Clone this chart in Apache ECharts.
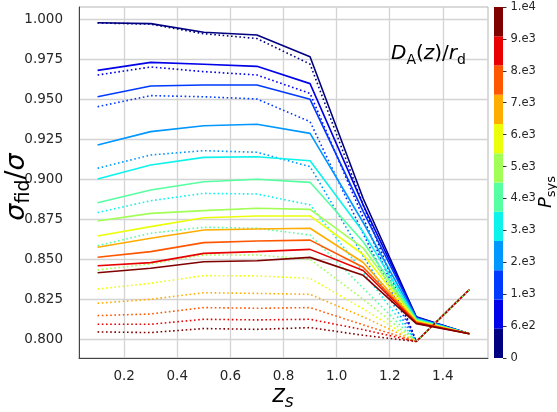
<!DOCTYPE html>
<html><head><meta charset="utf-8">
<script src="https://cdn.jsdelivr.net/npm/echarts@6/dist/echarts.min.js"></script>
<style>html,body{margin:0;padding:0;background:#fff}#c{width:557px;height:412px}</style>
</head><body><div id="c"></div>
<script>
// redshift bins
const zs = [0.1, 0.3, 0.5, 0.7, 0.9, 1.1, 1.3, 1.5];
// solid lines, P_sys level 0 (lowest) ... 11 (highest)
const solid_0  = [0.9979, 0.9973, 0.9919, 0.9902, 0.9766, 0.888, 0.8141, 0.8035];
const solid_1  = [0.9681, 0.9731, 0.9719, 0.9706, 0.9598, 0.884, 0.8138, 0.8035];
const solid_2  = [0.9516, 0.9583, 0.9589, 0.9589, 0.9500, 0.880, 0.8135, 0.8035];
const solid_3  = [0.9214, 0.9298, 0.9335, 0.9344, 0.9287, 0.873, 0.8131, 0.8035];
const solid_4  = [0.9002, 0.9089, 0.9137, 0.9141, 0.9116, 0.867, 0.8127, 0.8035];
const solid_5  = [0.8854, 0.8933, 0.8985, 0.9000, 0.8981, 0.861, 0.8122, 0.8035];
const solid_6  = [0.8739, 0.8787, 0.8804, 0.8819, 0.8812, 0.857, 0.8118, 0.8035];
const solid_7  = [0.8646, 0.8704, 0.8760, 0.8771, 0.8771, 0.853, 0.8114, 0.8035];
const solid_8  = [0.8575, 0.8631, 0.8683, 0.8689, 0.8694, 0.8480, 0.8110, 0.8035];
const solid_9  = [0.8513, 0.8548, 0.8604, 0.8614, 0.8620, 0.8450, 0.8106, 0.8035];
const solid_10 = [0.8460, 0.8479, 0.8537, 0.8548, 0.8562, 0.8430, 0.8102, 0.8035];
const solid_11 = [0.8416, 0.8444, 0.8485, 0.8491, 0.8512, 0.8400, 0.8098, 0.8035];
// dotted lines
const dotted_0  = [0.9977, 0.9970, 0.9910, 0.9880, 0.9720, 0.884, 0.7986, 0.8311];
const dotted_1  = [0.9652, 0.9702, 0.9673, 0.9652, 0.9537, 0.876, 0.7986, 0.8311];
const dotted_2  = [0.9454, 0.9523, 0.9516, 0.9502, 0.9360, 0.866, 0.7986, 0.8311];
const dotted_3  = [0.9069, 0.9152, 0.9179, 0.9169, 0.9079, 0.852, 0.7986, 0.8311];
const dotted_4  = [0.8792, 0.8866, 0.8912, 0.8908, 0.8840, 0.842, 0.7986, 0.8311];
const dotted_5  = [0.8585, 0.8663, 0.8700, 0.8694, 0.8652, 0.832, 0.7986, 0.8311];
const dotted_6  = [0.8433, 0.8471, 0.8527, 0.8527, 0.8500, 0.825, 0.7986, 0.8311];
const dotted_7  = [0.8314, 0.8350, 0.8398, 0.8396, 0.8381, 0.819, 0.7986, 0.8311];
const dotted_8  = [0.8225, 0.8250, 0.8291, 0.8287, 0.8281, 0.814, 0.7986, 0.8311];
const dotted_9  = [0.8148, 0.8158, 0.8198, 0.8194, 0.8198, 0.809, 0.7986, 0.8311];
const dotted_10 = [0.8094, 0.8094, 0.8125, 0.8121, 0.8125, 0.806, 0.7986, 0.8311];
const dotted_11 = [0.8046, 0.8042, 0.8067, 0.8062, 0.8073, 0.8025, 0.7986, 0.8311];
// tick labels
const xTicks = [0.2, 0.4, 0.6, 0.8, 1.0, 1.2, 1.4];
const yTicks = [0.800, 0.825, 0.850, 0.875, 0.900, 0.925, 0.950, 0.975, 1.000];
const cbTickLabels = ['0', '6.e2', '1.e3', '2.e3', '3.e3', '4.e3', '5.e3', '6.e3', '7.e3', '8.e3', '9.e3', '1.e4'];
const cbLevels = [1, 1, 1, 1, 1, 1, 1, 1, 1, 1, 1, 1];

const solids = [solid_0, solid_1, solid_2, solid_3, solid_4, solid_5, solid_6, solid_7, solid_8, solid_9, solid_10, solid_11];
const dotteds = [dotted_0, dotted_1, dotted_2, dotted_3, dotted_4, dotted_5, dotted_6, dotted_7, dotted_8, dotted_9, dotted_10, dotted_11];
const colors = ['#000080', '#0000e9', '#003aff', '#0097ff', '#0bf3eb', '#56ffa1', '#a1ff56', '#ebff0b', '#ffad00', '#ff5700', '#e90000', '#800000'];
const FONT = 'DejaVu Sans';
const TXT = '#262626';

const series = [];
for (let i = 0; i < solids.length; i++) {
  series.push({type: 'line', xAxisIndex: 0, yAxisIndex: 0, symbol: 'none', silent: true,
    data: zs.map((z, j) => [z, solids[i][j]]), z: 2,
    lineStyle: {color: colors[i], width: 1.6}});
  series.push({type: 'line', xAxisIndex: 0, yAxisIndex: 0, symbol: 'none', silent: true,
    data: zs.map((z, j) => [z, dotteds[i][j]]), z: 2,
    lineStyle: {color: colors[i], width: 1.6, type: [1.6, 2.6], cap: 'butt'}});
}
for (let i = 0; i < cbLevels.length; i++) {
  series.push({type: 'bar', xAxisIndex: 1, yAxisIndex: 1, stack: 'cb', data: [cbLevels[i]],
    barWidth: '100%', barCategoryGap: 0, silent: true, itemStyle: {color: colors[i]}});
}

const richBase = (size) => ({
  i: {fontFamily: FONT, fontSize: size, fontStyle: 'italic', fill: '#000', color: '#000', lineHeight: size + 6, verticalAlign: 'middle'},
  n: {fontFamily: FONT, fontSize: size, fill: '#000', color: '#000', lineHeight: size + 6, verticalAlign: 'middle'},
  s: {fontFamily: FONT, fontSize: Math.round(size * 0.7), fill: '#000', color: '#000', lineHeight: Math.round(size * 0.7), verticalAlign: 'bottom'},
  si: {fontFamily: FONT, fontSize: Math.round(size * 0.7), fontStyle: 'italic', fill: '#000', color: '#000', lineHeight: Math.round(size * 0.7), verticalAlign: 'bottom'}
});

const option = {
  animation: false,
  backgroundColor: '#ffffff',
  grid: [
    {left: 79, top: 7, width: 409, height: 351, show: true, borderColor: '#b5b5b5', borderWidth: 1, backgroundColor: 'transparent'},
    {left: 494, top: 7, width: 9, height: 351}
  ],
  xAxis: [
    {gridIndex: 0, type: 'value', min: 0.03, max: 1.57,
      axisLine: {show: true, onZero: false, lineStyle: {color: '#444', width: 1}},
      axisTick: {show: false, customValues: xTicks},
      axisLabel: {customValues: xTicks, formatter: v => v.toFixed(1), margin: 11, fontSize: 13.5, color: TXT, fontFamily: FONT},
      splitLine: {show: true, lineStyle: {color: '#d3d3d3', width: 1.3}}},
    {gridIndex: 1, type: 'category', data: ['cb'], show: false}
  ],
  yAxis: [
    {gridIndex: 0, type: 'value', min: 0.7883, max: 1.0077,
      axisLine: {show: true, onZero: false, lineStyle: {color: '#444', width: 1}},
      axisTick: {show: false, customValues: yTicks},
      axisLabel: {customValues: yTicks, formatter: v => v.toFixed(3), margin: 16, fontSize: 13.5, color: TXT, fontFamily: FONT},
      splitLine: {show: true, lineStyle: {color: '#d3d3d3', width: 1.3}}},
    {gridIndex: 1, type: 'value', min: 0, max: 12, show: false},
    {gridIndex: 1, type: 'value', min: 0, max: 11, interval: 1, position: 'right',
      axisLine: {show: false},
      axisTick: {show: true, length: 3.5, lineStyle: {color: '#333', width: 1}},
      axisLabel: {formatter: v => cbTickLabels[Math.round(v)], margin: 7.5, fontSize: 11.5, color: TXT, fontFamily: FONT},
      splitLine: {show: false}}
  ],
  series: series,
  graphic: [
    {type: 'text', x: 17, y: 187, rotation: Math.PI / 2, z: 10,
      style: {text: '{i|σ}{s|fid}{n|/}{i|σ}', rich: richBase(27), align: 'center', verticalAlign: 'middle'}},
    {type: 'text', x: 283, y: 396, z: 10,
      style: {text: '{i|z}{si|s}', rich: richBase(24), align: 'center', verticalAlign: 'middle'}},
    {type: 'text', x: 391, y: 54, z: 10,
      style: {text: '{i|D}{s|A}{n|(}{i|z}{n|)/}{i|r}{s|d}', rich: richBase(20), align: 'left', verticalAlign: 'middle'}},
    {type: 'text', x: 546, y: 192, rotation: Math.PI / 2, z: 10,
      style: {text: '{i|P}{s|sys}', rich: richBase(18), align: 'center', verticalAlign: 'middle'}}
  ]
};
const chart = echarts.init(document.getElementById('c'), null, {renderer: 'canvas'});
chart.setOption(option);
</script></body></html>
